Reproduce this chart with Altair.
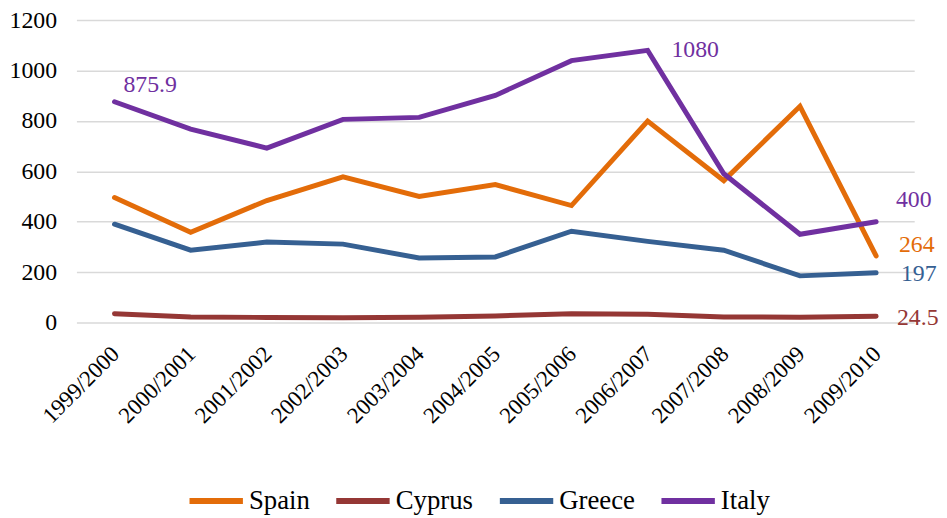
import altair as alt
import pandas as pd

years = ["1999/2000", "2000/2001", "2001/2002", "2002/2003", "2003/2004", "2004/2005",
         "2005/2006", "2006/2007", "2007/2008", "2008/2009", "2009/2010"]
series = ["Spain", "Cyprus", "Greece", "Italy"]
colors = ["#E36C09", "#953735", "#366092", "#7030A0"]

spain = [496, 358, 484, 578, 500, 547, 464, 799, 563, 858, 264]
cyprus = [35, 22, 20, 19, 21, 26, 35, 33, 22, 21, 24.5]
greece = [390, 287, 319, 311, 256, 260, 362, 322, 287, 185, 197]
italy = [875.9, 767, 692, 806, 814, 901, 1039, 1080, 590, 350, 400]

rows = []
for name, vals in zip(series, [spain, cyprus, greece, italy]):
    for y, v in zip(years, vals):
        rows.append({"year": y, "country": name, "value": v})
df = pd.DataFrame(rows)

FONT = "'Liberation Serif', 'Times New Roman', serif"

x_enc = alt.X("year:N", sort=years, title=None,
              scale=alt.Scale(paddingInner=0, paddingOuter=0.5),
              axis=alt.Axis(labelAngle=-45, labelFontSize=23, labelFont=FONT,
                            labelColor="#000000", ticks=False, domain=False,
                            labelPadding=20, labelOffset=-7, grid=False))
y_enc = alt.Y("value:Q", title=None,
              scale=alt.Scale(domain=[0, 1200]),
              axis=alt.Axis(values=[0, 200, 400, 600, 800, 1000, 1200], format="d",
                            labelFontSize=24, labelFont=FONT, labelColor="#000000",
                            ticks=False, domain=False, labelPadding=20,
                            grid=True, gridColor="#D9D9D9", gridWidth=1.5))

lines = alt.Chart(df).mark_line(strokeWidth=5, strokeCap="round").encode(
    x=x_enc,
    y=y_enc,
    color=alt.Color("country:N",
                    scale=alt.Scale(domain=series, range=colors),
                    legend=alt.Legend(title=None, orient="none", direction="horizontal",
                                      legendX=111, legendY=455,
                                      symbolType="stroke", symbolSize=2900,
                                      symbolStrokeWidth=6, labelFontSize=27,
                                      labelFont=FONT, labelColor="#000000",
                                      columnPadding=14, labelOffset=3)),
    detail="country:N",
)

def label(country, year, dx, dy):
    sub = df[(df.country == country) & (df.year == year)]
    c = colors[series.index(country)]
    return alt.Chart(sub).mark_text(align="left", baseline="middle", dx=dx, dy=dy,
                                    font=FONT, fontSize=24, color=c).encode(
        x=alt.X("year:N", sort=years),
        y=alt.Y("value:Q"),
        text=alt.Text("value:Q", format="~g"),
    )

labels = [
    label("Italy", "1999/2000", 9, -17),
    label("Italy", "2006/2007", 24, 0),
    label("Italy", "2009/2010", 20, -22),
    label("Spain", "2009/2010", 23, -11),
    label("Greece", "2009/2010", 25, 1),
    label("Cyprus", "2009/2010", 21, 2),
]

chart = alt.layer(lines, *labels).properties(
    width=845, height=305,
    autosize=alt.AutoSizeParams(type="none"),
    padding={"left": 69, "top": 10, "right": 25, "bottom": 195},
).configure_view(stroke=None)

chart.save("out.html", embed_options={"renderer": "svg", "actions": False})
